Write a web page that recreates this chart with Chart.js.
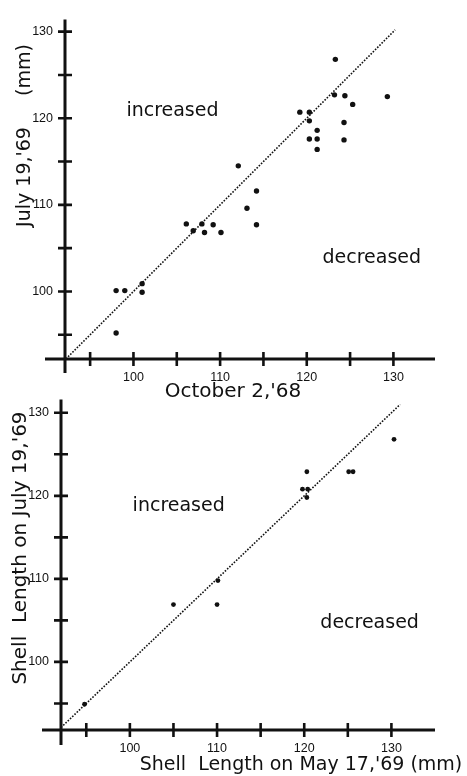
<!DOCTYPE html>
<html>
<head>
<meta charset="utf-8">
<script src="https://cdn.jsdelivr.net/npm/chart.js@4.4.0/dist/chart.umd.min.js"></script>
<style>
  html, body { margin: 0; padding: 0; background: #fff; }
  #wrap { position: relative; width: 467px; height: 776px; overflow: hidden; }
  canvas { position: absolute; left: 0; }
  #topChart { top: 0; }
  #bottomChart { top: 380px; }
</style>
</head>
<body>
<div id="wrap">
  <canvas id="topChart" width="467" height="400"></canvas>
  <canvas id="bottomChart" width="467" height="396"></canvas>
</div>
<script>
// Data (shell length, mm)
const octLength = [98, 99, 98, 101, 101, 106.1, 106.9, 107.9, 108.2, 109.2, 110.1, 112.1, 113.1, 114.2, 114.2,
    119.2, 120.3, 120.3, 120.3, 121.2, 121.2, 121.2, 123.3, 123.2, 124.4, 125.3, 124.3, 124.3, 129.3];
const julLengthA = [100.1, 100.1, 95.2, 100.9, 99.9, 107.8, 107.0, 107.8, 106.8, 107.7, 106.8, 114.5, 109.6, 111.6, 107.7,
    120.7, 120.7, 119.7, 117.6, 118.6, 117.6, 116.4, 126.8, 122.7, 122.6, 121.6, 119.5, 117.5, 122.5];

const mayLength = [94.8, 105.0, 110.0, 110.1, 120.3, 119.8, 120.4, 120.3, 125.1, 125.6, 130.3];
const julLengthB = [94.9, 106.9, 106.9, 109.8, 122.9, 120.8, 120.8, 119.8, 122.9, 122.9, 126.8];

// Ticks
const tickLabels = [100, 110, 120, 130];
const tickMarks = [95, 100, 105, 110, 115, 120, 125, 130];

// no change line (y = x)
const diagTop = [92.2, 130.2];
const diagBottom = [92.1, 131];

const INK = '#111';
const FONT = 'DejaVu Sans';

// Axis lines with ticks crossing them, plus titles and region notes
const crossAxes = {
    id: 'crossAxes',
    afterDraw(chart, args, opts) {
        const { ctx, chartArea: a, scales: { x, y } } = chart;
        ctx.save();
        ctx.strokeStyle = INK;
        ctx.lineCap = 'butt';

        ctx.lineWidth = 3;
        ctx.beginPath();
        ctx.moveTo(a.left - opts.xOver, a.bottom);
        ctx.lineTo(a.right, a.bottom);
        ctx.moveTo(a.left, a.top);
        ctx.lineTo(a.left, a.bottom + opts.yOver);
        ctx.stroke();

        ctx.lineWidth = 2.6;
        ctx.beginPath();
        tickMarks.forEach(v => {
            const px = x.getPixelForValue(v);
            ctx.moveTo(px, a.bottom - 7);
            ctx.lineTo(px, a.bottom + 7);
            const py = y.getPixelForValue(v);
            ctx.moveTo(a.left - 7, py);
            ctx.lineTo(a.left + 7, py);
        });
        ctx.stroke();

        ctx.fillStyle = INK;
        ctx.textAlign = 'center';
        ctx.textBaseline = 'middle';

        // notes placed in data units
        ctx.font = '19px "' + FONT + '"';
        opts.notes.forEach(n => {
            ctx.fillText(n.text, x.getPixelForValue(n.x), y.getPixelForValue(n.y));
        });

        // x title
        const xt = opts.xTitle;
        ctx.font = xt.size + 'px "' + FONT + '"';
        ctx.textBaseline = 'alphabetic';
        ctx.fillText(xt.text, xt.cx, xt.base);

        // y title(s), rotated
        ctx.textBaseline = 'middle';
        opts.yTitles.forEach(t => {
            ctx.save();
            ctx.translate(t.cx, t.cy);
            ctx.rotate(-Math.PI / 2);
            ctx.font = t.size + 'px "' + FONT + '"';
            ctx.fillText(t.text, 0, 0);
            ctx.restore();
        });
        ctx.restore();
    }
};

function makeChart(canvasId, xs, ys, diag, cfg) {
    const points = xs.map((v, i) => ({ x: v, y: ys[i] }));
    const line = diag.map(v => ({ x: v, y: v }));
    return new Chart(document.getElementById(canvasId), {
        type: 'scatter',
        data: {
            datasets: [{
                data: points,
                backgroundColor: INK,
                borderWidth: 0,
                pointRadius: cfg.dot
            }, {
                type: 'line',
                data: line,
                borderColor: INK,
                borderWidth: 1.6,
                borderDash: [1.6, 1.5],
                pointRadius: 0,
                fill: false
            }]
        },
        options: {
            responsive: false,
            animation: false,
            events: [],
            layout: { padding: { top: cfg.top, right: cfg.right, left: 0, bottom: 0 } },
            plugins: {
                legend: { display: false },
                tooltip: { enabled: false },
                crossAxes: cfg.plugin
            },
            scales: {
                x: {
                    type: 'linear',
                    min: cfg.xMin,
                    max: cfg.xMax,
                    grid: { display: false, drawTicks: false },
                    border: { display: false },
                    afterBuildTicks: s => { s.ticks = tickLabels.map(v => ({ value: v })); },
                    afterFit: s => { s.height = cfg.xHeight; },
                    ticks: {
                        color: INK,
                        padding: 11,
                        maxRotation: 0,
                        font: { family: 'Liberation Sans', size: 12.5 }
                    }
                },
                y: {
                    type: 'linear',
                    min: cfg.yMin,
                    max: cfg.yMax,
                    grid: { display: false, drawTicks: false },
                    border: { display: false },
                    afterBuildTicks: s => { s.ticks = tickLabels.map(v => ({ value: v })); },
                    afterFit: s => { s.width = cfg.yWidth; },
                    ticks: {
                        color: INK,
                        padding: 12,
                        font: { family: 'Liberation Sans', size: 12.5 }
                    }
                }
            }
        },
        plugins: [crossAxes]
    });
}

makeChart('topChart', octLength, julLengthA, diagTop, {
    dot: 2.7,
    top: 12, right: 32,
    xHeight: 41, yWidth: 65,
    xMin: 92.1, xMax: 134.8,
    yMin: 92.2, yMax: 131.4,
    plugin: {
        xOver: 20, yOver: 14,
        notes: [
            { text: 'increased', x: 104.5, y: 120.8 },
            { text: 'decreased', x: 127.5, y: 103.9 }
        ],
        xTitle: { text: "October 2,'68", cx: 233, base: 397, size: 20 },
        yTitles: [
            { text: "July 19,'69", cx: 25, cy: 177, size: 19 },
            { text: '(mm)', cx: 25, cy: 70, size: 19 }
        ]
    }
});

makeChart('bottomChart', mayLength, julLengthB, diagBottom, {
    dot: 2.4,
    top: 10, right: 32,
    xHeight: 46, yWidth: 61,
    xMin: 92.1, xMax: 135,
    yMin: 91.8, yMax: 131.6,
    plugin: {
        xOver: 19, yOver: 15,
        notes: [
            { text: 'increased', x: 105.6, y: 118.8 },
            { text: 'decreased', x: 127.5, y: 104.7 }
        ],
        xTitle: { text: "Shell  Length on May 17,'69 (mm)", cx: 301, base: 390, size: 19 },
        yTitles: [
            { text: "Shell  Length on July 19,'69", cx: 21, cy: 168, size: 20 }
        ]
    }
});
</script>
</body>
</html>
